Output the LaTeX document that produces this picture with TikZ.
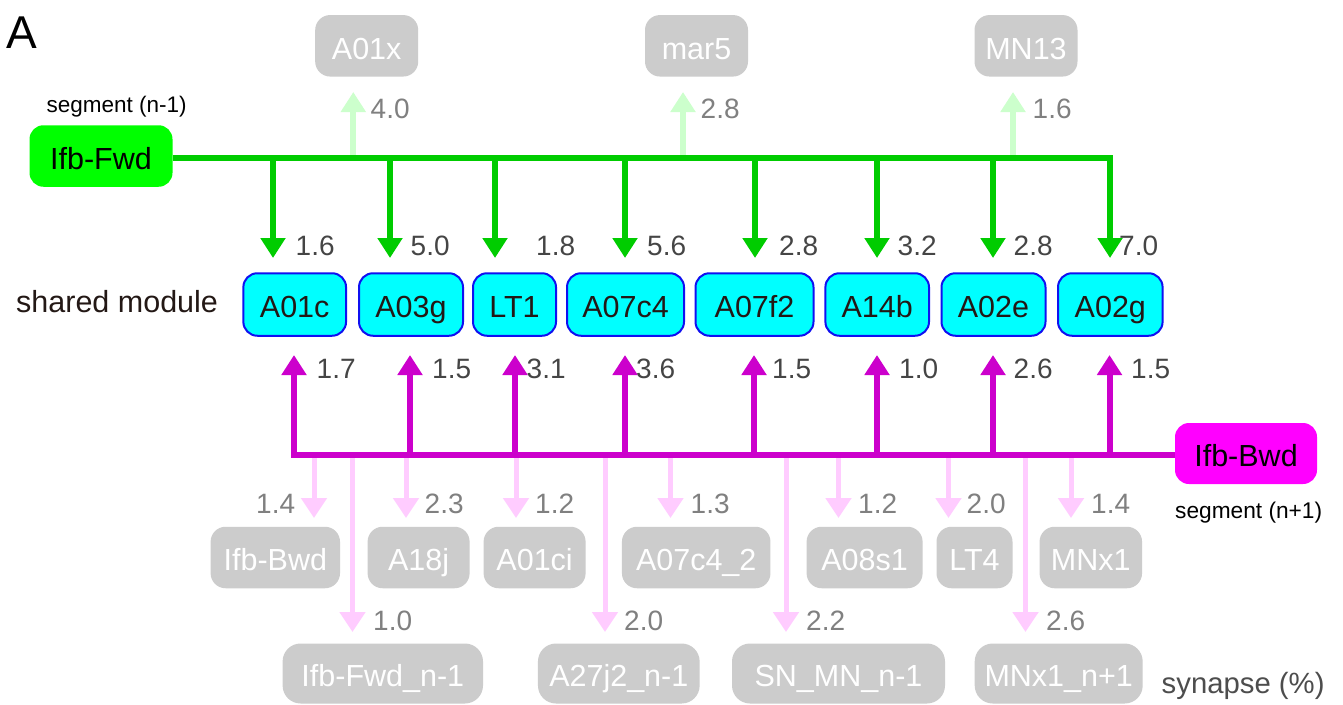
\documentclass[tikz,border=0pt]{standalone}
\usepackage{fontspec}
\setmainfont{Liberation Sans}
\usetikzlibrary{arrows.meta,calc}

\definecolor{busgreen}{HTML}{00CC00}
\definecolor{fwdfill}{HTML}{00FF00}
\definecolor{palegreen}{HTML}{CCFFCC}
\definecolor{busmag}{HTML}{CC00CC}
\definecolor{bwdfill}{HTML}{FF00FF}
\definecolor{palepink}{HTML}{FFCCFF}
\definecolor{modfill}{HTML}{00FFFF}
\definecolor{modline}{HTML}{1010F0}
\definecolor{ghostfill}{HTML}{CCCCCC}
\definecolor{darknum}{HTML}{454545}
\definecolor{lightnum}{HTML}{808080}
\definecolor{inkbrown}{HTML}{231815}
\definecolor{capgray}{HTML}{4D4D4D}

\tikzset{
  boxlabel/.style={inner sep=0pt, font=\fontsize{30.5}{36}\selectfont,
    text height=26.8pt, text depth=0pt, align=center},
  modbox/.style={boxlabel, draw=modline, line width=2pt, fill=modfill,
    rounded corners=14pt, minimum height=62.5pt, text=inkbrown},
  ghostbox/.style={boxlabel, fill=ghostfill, rounded corners=15pt,
    minimum height=61.5pt, text=white},
  lowghost/.style={boxlabel, fill=ghostfill, rounded corners=18pt,
    minimum height=60pt, text=white},
  fwdbox/.style={boxlabel, fill=fwdfill, rounded corners=14pt,
    minimum width=143pt, minimum height=61.5pt, text=black},
  bwdbox/.style={boxlabel, fill=bwdfill, rounded corners=14pt,
    minimum width=142pt, minimum height=61pt, text=black},
  numlab/.style={anchor=west, inner sep=0pt, font=\fontsize{28}{32}\selectfont,
    text height=20pt, text depth=0pt, text=darknum},
  ghostnum/.style={numlab, text=lightnum},
  tipshape/.style={-{Triangle[width=24pt,length=20pt]}},
  greenarrow/.style={tipshape, draw=busgreen, line width=6pt},
  magarrow/.style={tipshape, draw=busmag, line width=6pt},
  paleup/.style={tipshape, draw=palegreen, line width=6pt},
  paledown/.style={-{Triangle[width=25pt,length=20pt]}, draw=palepink, line width=5pt},
}

\begin{document}
\begin{tikzpicture}[x=1pt,y=-1pt]
  \useasboundingbox (0,0) rectangle (1343,704);
  \fill[white] (0,0) rectangle (1343,704);

  % panel letter and side captions
  \node[anchor=base west, inner sep=0pt, font=\fontsize{46}{50}\selectfont] (panel) at (6,48) {A};
  \node[anchor=base west, inner sep=0pt, font=\fontsize{22.5}{26}\selectfont] (segprev) at (46.5,112) {segment (n-1)};
  \node[anchor=base west, inner sep=0pt, font=\fontsize{22.7}{26}\selectfont] (segnext) at (1175,518) {segment (n+1)};
  \node[anchor=base west, inner sep=0pt, font=\fontsize{30.5}{36}\selectfont, text=inkbrown] (shared) at (16,312) {shared module};
  \node[anchor=base west, inner sep=0pt, font=\fontsize{29.3}{34}\selectfont, text=capgray] (synlab) at (1161.5,693) {synapse (\%)};

  % upstream targets of Ifb-Fwd
  \node[ghostbox, minimum width=103pt] (A01x) at (366.7,45.8) {A01x};
  \node[ghostbox, minimum width=103pt] (mar5) at (696.5,45.8) {mar5};
  \node[ghostbox, minimum width=103pt] (MN13) at (1026,45.8) {MN13};

  % segment neurons
  \node[fwdbox] (fwd) at (101,156) {Ifb-Fwd};
  \node[bwdbox] (bwd) at (1246,453.5) {Ifb-Bwd};

  % shared module
  \node[modbox, minimum width=102.7pt] (A01c)  at (294.7,304.5) {A01c};
  \node[modbox, minimum width=104pt]   (A03g)  at (411,304.5)   {A03g};
  \node[modbox, minimum width=83pt]    (LT1)   at (514.5,304.5) {LT1};
  \node[modbox, minimum width=117pt]   (A07c4) at (625.5,304.5) {A07c4};
  \node[modbox, minimum width=118pt]   (A07f2) at (754.5,304.5) {A07f2};
  \node[modbox, minimum width=103.6pt] (A14b)  at (877.2,304.5) {A14b};
  \node[modbox, minimum width=104pt]   (A02e)  at (993.5,304.5) {A02e};
  \node[modbox, minimum width=104.6pt] (A02g)  at (1110.3,304.5) {A02g};

  % downstream targets of Ifb-Bwd, first row
  \node[ghostbox, minimum width=129.4pt] (bwdT)   at (275.3,557.5) {Ifb-Bwd};
  \node[ghostbox, minimum width=102pt]   (A18j)   at (418.6,557.5) {A18j};
  \node[ghostbox, minimum width=102pt]   (A01ci)  at (534.6,557.5) {A01ci};
  \node[ghostbox, minimum width=148.5pt] (A07c4b) at (696.2,557.5) {A07c4\_2};
  \node[ghostbox, minimum width=116pt]   (A08s1)  at (864.6,557.5) {A08s1};
  \node[ghostbox, minimum width=76pt]    (LT4)    at (974.5,557.5) {LT4};
  \node[ghostbox, minimum width=102.5pt] (MNx1)   at (1090.8,557.5) {MNx1};

  % downstream targets of Ifb-Bwd, second row
  \node[lowghost, minimum width=200.4pt] (fwdN)  at (382.8,673.5) {Ifb-Fwd\_n-1};
  \node[lowghost, minimum width=161.7pt] (A27j2) at (618.8,673.5) {A27j2\_n-1};
  \node[lowghost, minimum width=213pt]   (SNMN)  at (838.5,673.5) {SN\_MN\_n-1};
  \node[lowghost, minimum width=168pt]   (MNx1n) at (1058.7,673.5) {MNx1\_n+1};

  % bus lines and arrow tips
  \coordinate (gbus) at (1110,158);
  \coordinate (mbus) at (294,454.5);

  \coordinate (up1) at (353.3,92);
  \coordinate (up2) at (683,92);
  \coordinate (up3) at (1013,92);

  \coordinate (g1) at (273,258);
  \coordinate (g2) at (390,258);
  \coordinate (g3) at (495,258);
  \coordinate (g4) at (625,258);
  \coordinate (g5) at (755,258);
  \coordinate (g6) at (877,258);
  \coordinate (g7) at (993,258);
  \coordinate (g8) at (1110,258);

  \coordinate (m1) at (294,355);
  \coordinate (m2) at (410,355);
  \coordinate (m3) at (515,355);
  \coordinate (m4) at (625,355);
  \coordinate (m5) at (754,355);
  \coordinate (m6) at (877,355);
  \coordinate (m7) at (993,355);
  \coordinate (m8) at (1109.5,355);

  \coordinate (s1) at (314,518);
  \coordinate (s2) at (406,518);
  \coordinate (s3) at (516,518);
  \coordinate (s4) at (670.5,518);
  \coordinate (s5) at (838.5,518);
  \coordinate (s6) at (948.5,518);
  \coordinate (s7) at (1071,518);

  \coordinate (l1) at (352.5,632);
  \coordinate (l2) at (605,632);
  \coordinate (l3) at (786,632);
  \coordinate (l4) at (1025.5,632);

  % weak forward outputs (behind the green bus)
  \foreach \c in {up1,up2,up3} \draw[paleup] (\c |- gbus) -- (\c);

  % forward bus into the module
  \draw[greenarrow] (fwd.east |- gbus) -| (g8);
  \foreach \c in {g1,g2,g3,g4,g5,g6,g7} \draw[greenarrow] (\c |- gbus) -- (\c);

  % weak backward outputs (behind the magenta bus)
  \foreach \c in {s1,s2,s3,s4,s5,s6,s7,l1,l2,l3,l4} \draw[paledown] (\c |- mbus) -- (\c);

  % backward bus into the module
  \draw[magarrow] (bwd.west |- mbus) -| (m1);
  \foreach \c in {m2,m3,m4,m5,m6,m7,m8} \draw[magarrow] (\c |- mbus) -- (\c);

  % synapse percentages
  \node[ghostnum] (t1) at (370.5,108) {4.0};
  \node[ghostnum] (t2) at (700.5,108) {2.8};
  \node[ghostnum] (t3) at (1032.5,108) {1.6};

  \node[numlab] (n1) at (295.5,245) {1.6};
  \node[numlab] (n2) at (410.5,245) {5.0};
  \node[numlab] (n3) at (536,245) {1.8};
  \node[numlab] (n4) at (647,245) {5.6};
  \node[numlab] (n5) at (779,245) {2.8};
  \node[numlab] (n6) at (897.5,245) {3.2};
  \node[numlab] (n7) at (1013.5,245) {2.8};
  \node[numlab] (n8) at (1119,245) {7.0};

  \node[numlab] (b1) at (316.5,368) {1.7};
  \node[numlab] (b2) at (432,368) {1.5};
  \node[numlab] (b3) at (526.5,368) {3.1};
  \node[numlab] (b4) at (636,368) {3.6};
  \node[numlab] (b5) at (772,368) {1.5};
  \node[numlab] (b6) at (899,368) {1.0};
  \node[numlab] (b7) at (1013.5,368) {2.6};
  \node[numlab] (b8) at (1131,368) {1.5};

  \node[ghostnum] (p1) at (256,503.5) {1.4};
  \node[ghostnum] (p2) at (424.5,503.5) {2.3};
  \node[ghostnum] (p3) at (535,503.5) {1.2};
  \node[ghostnum] (p4) at (690.5,503.5) {1.3};
  \node[ghostnum] (p5) at (858,503.5) {1.2};
  \node[ghostnum] (p6) at (966.5,503.5) {2.0};
  \node[ghostnum] (p7) at (1091,503.5) {1.4};

  \node[ghostnum] (q1) at (373,620) {1.0};
  \node[ghostnum] (q2) at (624,620) {2.0};
  \node[ghostnum] (q3) at (806,620) {2.2};
  \node[ghostnum] (q4) at (1046,620) {2.6};
\end{tikzpicture}
\end{document}
